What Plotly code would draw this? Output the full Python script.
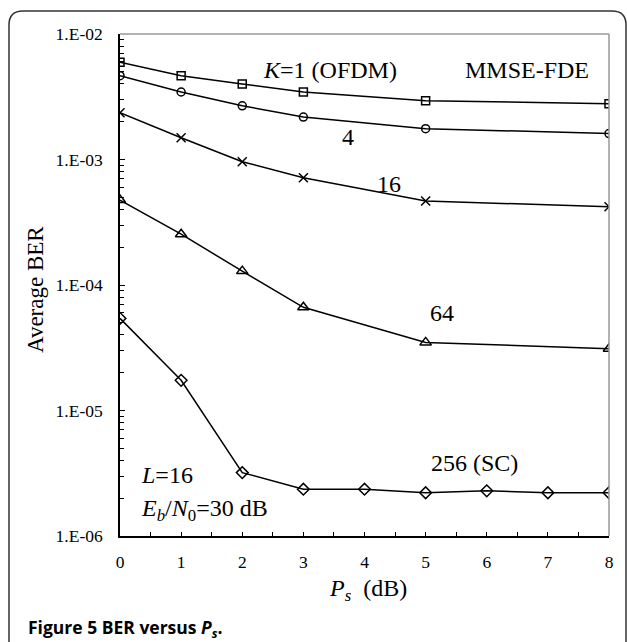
import plotly.graph_objects as go

ps_db = [0, 1, 2, 3, 5, 8]
ber_k1 = [5.95e-3, 4.65e-3, 4.0e-3, 3.45e-3, 2.94e-3, 2.78e-3]
ber_k4 = [4.65e-3, 3.45e-3, 2.68e-3, 2.18e-3, 1.76e-3, 1.61e-3]
ber_k16 = [2.36e-3, 1.49e-3, 9.6e-4, 7.16e-4, 4.67e-4, 4.2e-4]
ber_k64 = [4.75e-4, 2.54e-4, 1.29e-4, 6.64e-5, 3.49e-5, 3.11e-5]
ps_db_sc = [0, 1, 2, 3, 4, 5, 6, 7, 8]
ber_k256 = [5.42e-5, 1.74e-5, 3.2e-6, 2.36e-6, 2.36e-6, 2.21e-6, 2.29e-6, 2.21e-6, 2.21e-6]

y_tickvals = [1e-6, 1e-5, 1e-4, 1e-3, 1e-2]
y_ticktext = ["1.E-06", "1.E-05", "1.E-04", "1.E-03", "1.E-02"]
x_tickvals = [0, 1, 2, 3, 4, 5, 6, 7, 8]

SERIF = "Liberation Serif"

W, H = 627, 642
L, R, T, B = 120, 18, 34, 106
PW, PH = W - L - R, H - T - B

def px(sx):
    return (sx - L) / PW

def py(sy):
    return (H - B - sy) / PH

fig = go.Figure()

series = [
    (ps_db, ber_k1, "square-open", 8),
    (ps_db, ber_k4, "circle-open", 8),
    (ps_db, ber_k16, "x-thin-open", 9),
    (ps_db, ber_k64, "triangle-up-open", 10),
    (ps_db_sc, ber_k256, "diamond-open", 9),
]
for xs, ys, sym, sz in series:
    fig.add_trace(go.Scatter(
        x=xs, y=ys, mode="lines+markers",
        line=dict(color="black", width=1.5),
        marker=dict(symbol=sym, size=sz, color="black",
                    line=dict(color="black", width=1.5)),
        showlegend=False,
    ))

minor_y = [m * 10 ** e for e in range(-6, -2) for m in range(2, 10)]

fig.update_xaxes(
    range=[0, 8], tickvals=x_tickvals, showline=True, linecolor="black",
    linewidth=1.5, ticks="inside", ticklen=4, tickwidth=1, tickcolor="black",
    minor=dict(tickvals=[i + 0.5 for i in range(8)], ticks="inside", ticklen=4,
               tickcolor="black", tickwidth=1),
    showgrid=False, zeroline=False,
    tickfont=dict(family=SERIF, size=17.5, color="black"), ticklabelstandoff=9,
)
fig.update_yaxes(
    type="log", range=[-6, -2], tickvals=y_tickvals, ticktext=y_ticktext,
    showline=True, linecolor="black", linewidth=1.5, ticks="inside", ticklen=5,
    tickwidth=1, tickcolor="black",
    minor=dict(tickvals=minor_y, ticks="inside", ticklen=4, tickcolor="black",
               tickwidth=1, showgrid=False),
    showgrid=False, zeroline=False,
    tickfont=dict(family=SERIF, size=17.5, color="black"), ticklabelstandoff=12,
)

# top/right gray frame lines
fig.add_shape(type="line", xref="paper", yref="paper", x0=0, x1=1, y0=1, y1=1,
              line=dict(color="#999999", width=1.5))
fig.add_shape(type="line", xref="paper", yref="paper", x0=1, x1=1, y0=0, y1=1,
              line=dict(color="#999999", width=1.5))

# outer rounded border (open at the bottom)
x0, x1 = px(9), px(626)
y0, y1 = py(648), py(11)
rx, ry = 14 / PW, 14 / PH
path = (f"M {x0},{y0} L {x0},{y1 - ry} Q {x0},{y1} {x0 + rx},{y1} "
        f"L {x1 - rx},{y1} Q {x1},{y1} {x1},{y1 - ry} L {x1},{y0}")
fig.add_shape(type="path", xref="paper", yref="paper", path=path,
              line=dict(color="#333333", width=1.5))

def ann(text, sx, sy, size=24, family=SERIF, xanchor="center", **kw):
    fig.add_annotation(text=text, x=px(sx), y=py(sy), xref="paper", yref="paper",
                       showarrow=False, xanchor=xanchor, yanchor="middle",
                       font=dict(family=family, size=size, color="black"), **kw)

ann("<i>K</i>=1 (OFDM)", 330, 70)
ann("MMSE-FDE", 527, 70)
ann("4", 348, 137)
ann("16", 389, 184)
ann("64", 442, 313)
ann("256 (SC)", 474, 463)
ann("<i>L</i>=16", 139, 475, xanchor="left")
ann("<i>E</i><sub><i>b</i></sub>/<i>N</i><sub>0</sub>=30 dB", 139, 510, xanchor="left")
ann("<i>P</i><sub><i>s</i></sub>  (dB)", 368, 590)
ann("Average BER", 35, 290, size=23, textangle=-90)
ann("<b>Figure 5</b> <b>BER versus <i>P<sub>s</sub></i>.</b>", 26, 628, size=17.5,
    family="Open Sans", xanchor="left")

fig.update_layout(
    width=W, height=H, margin=dict(l=L, r=R, t=T, b=B),
    paper_bgcolor="white", plot_bgcolor="white",
)

fig.write_html("out.html")
